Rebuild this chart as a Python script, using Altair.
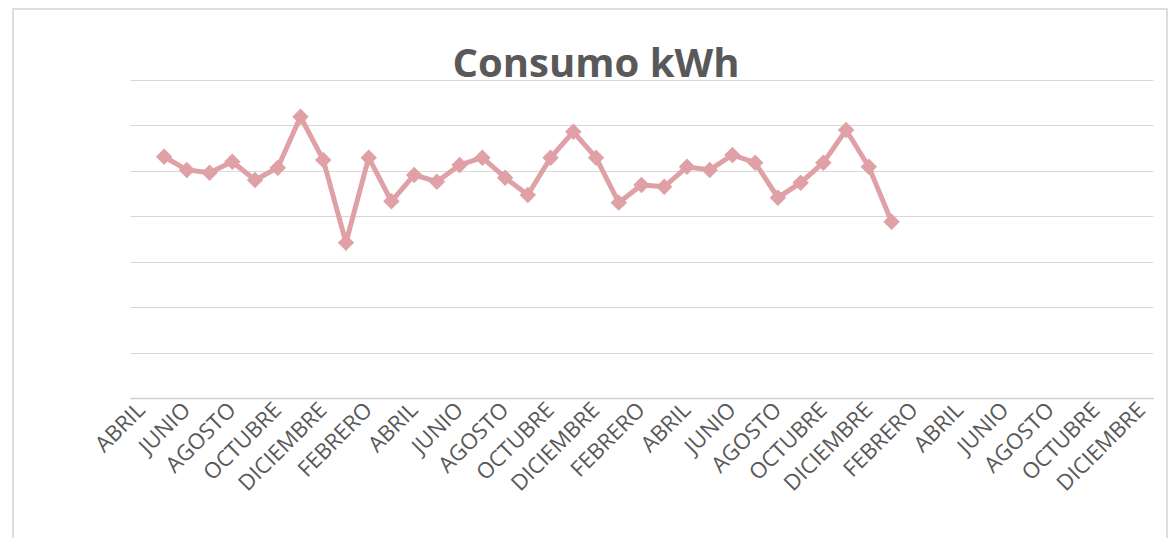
import altair as alt
import pandas as pd

meses_ciclo = ["ABRIL", "MAYO", "JUNIO", "JULIO", "AGOSTO", "SEPTIEMBRE",
               "OCTUBRE", "NOVIEMBRE", "DICIEMBRE", "ENERO", "FEBRERO", "MARZO"]
n_cat = 45
categorias = [meses_ciclo[i % 12] for i in range(n_cat)]
claves = [f"{categorias[i]}|{i}" for i in range(n_cat)]

consumo = [None,
           531, 502, 496, 520, 480, 507, 619, 524, 342, 529,
           433, 491, 476, 513, 529, 485, 447, 529, 586, 529,
           430, 469, 465, 509, 502, 535, 518, 441, 474, 518,
           590, 509, 388] + [None] * 11

etiquetas = [claves[i] for i in range(0, n_cat, 2)]
titulo = "Consumo kWh"

df = pd.DataFrame({"mes": claves, "kwh": consumo, "orden": list(range(n_cat))})

color = "#DFA0A6"
W, H = 1023, 318

x_enc = alt.X("mes:N", sort=claves,
              scale=alt.Scale(type="band", paddingInner=0, paddingOuter=0),
              axis=alt.Axis(title=None, values=etiquetas,
                            labelExpr="split(datum.label, '|')[0]",
                            labelAngle=-45, labelAlign="right", labelBaseline="middle",
                            labelFont="Open Sans", labelFontSize=22, labelColor="#595959",
                            labelPadding=8, ticks=False, domain=True,
                            domainColor="#D0D0D0", domainWidth=1.5, grid=False,
                            labelOverlap=False))
y_enc = alt.Y("kwh:Q", scale=alt.Scale(domain=[0, 700], nice=False),
              axis=alt.Axis(title=None, values=[0, 100, 200, 300, 400, 500, 600, 700],
                            labels=False, ticks=False, domain=False,
                            gridColor="#D9D9D9", gridWidth=1.2))

base = alt.Chart(df)
linea = base.mark_line(color=color, strokeWidth=5).encode(x=x_enc, y=y_enc, order="orden:Q")
puntos = base.mark_point(shape="diamond", filled=True, color=color, size=270, opacity=1).encode(
    x=x_enc, y=y_enc)

uno = pd.DataFrame({"t": [titulo]})
marco = alt.Chart(uno).mark_rect(
    fill=None, stroke="#D4D4D4", strokeWidth=1.5).encode(
    x=alt.value(-117), x2=alt.value(1037), y=alt.value(-71), y2=alt.value(466))
texto_titulo = alt.Chart(uno).mark_text(
    font="Open Sans", fontSize=40, fontWeight="bold", color="#595959",
    align="center", baseline="alphabetic").encode(
    text="t:N", x=alt.value(466), y=alt.value(-3))

chart = alt.layer(marco, linea, puntos, texto_titulo).properties(
    width=W, height=H,
    autosize=alt.AutoSizeParams(type="none"),
    padding={"left": 122, "top": 72, "right": 15, "bottom": 140},
).configure(background="white", view=alt.ViewConfig(stroke=None))

chart.save("out.html", embed_options={"renderer": "svg", "actions": False})
